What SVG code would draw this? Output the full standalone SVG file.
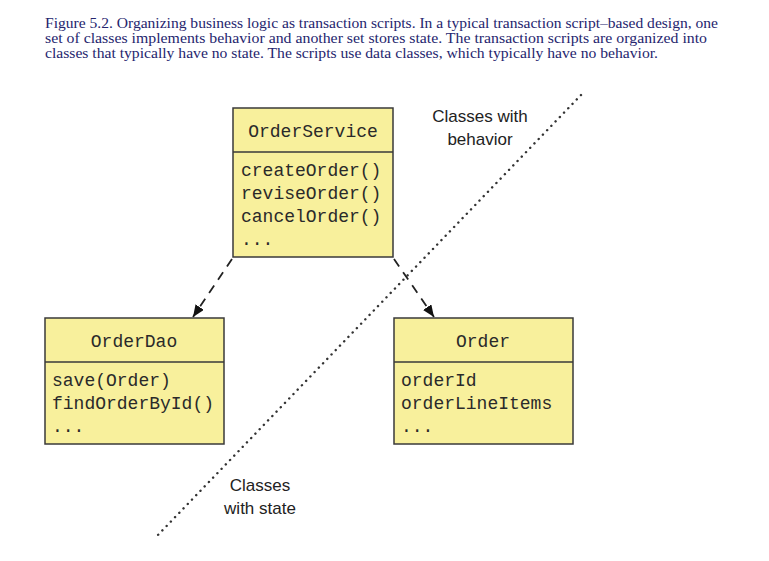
<svg xmlns="http://www.w3.org/2000/svg" width="769" height="561" viewBox="0 0 769 561">
<style>
.cap{font-family:"Liberation Serif","Times New Roman",serif;font-size:15px;fill:#25256e}
.box{fill:#f8f09c;stroke:#3a3a3a;stroke-width:1.5}
.mono{font-family:"Liberation Mono","Courier New",monospace;font-size:18px;fill:#2a2a2a}
.lbl{font-family:"Liberation Sans",Arial,sans-serif;font-size:17px;fill:#222}
.dash{fill:none;stroke:#222;stroke-width:1.8;stroke-dasharray:9 7}
.dot{fill:none;stroke:#333;stroke-width:2.4;stroke-dasharray:0.1 6;stroke-linecap:round}
</style>
<defs>
<marker id="ah" viewBox="0 0 12 10" refX="12" refY="5" markerWidth="12" markerHeight="10" markerUnits="userSpaceOnUse" orient="auto">
<path d="M0,0 L12,5 L0,10 z" fill="#111"/>
</marker>
</defs>
<rect width="769" height="561" fill="#fff"/>
<g id="caption">
<text class="cap" x="45" y="28" textLength="673" lengthAdjust="spacingAndGlyphs">Figure 5.2. Organizing business logic as transaction scripts. In a typical transaction script–based design, one</text>
<text class="cap" x="45" y="43" textLength="662" lengthAdjust="spacingAndGlyphs">set of classes implements behavior and another set stores state. The transaction scripts are organized into</text>
<text class="cap" x="45" y="58" textLength="613" lengthAdjust="spacingAndGlyphs">classes that typically have no state. The scripts use data classes, which typically have no behavior.</text>
</g>
<g id="divider">
<path class="dot" d="M581,95 L156,537"/>
<text class="lbl" x="480" y="122" text-anchor="middle">Classes with</text>
<text class="lbl" x="480" y="145" text-anchor="middle">behavior</text>
<text class="lbl" x="260" y="491" text-anchor="middle">Classes</text>
<text class="lbl" x="260" y="514" text-anchor="middle">with state</text>
</g>
<g id="connectors">
<path class="dash" d="M232,259 L193,317" marker-end="url(#ah)"/>
<path class="dash" d="M394,259 L434,317" marker-end="url(#ah)"/>
</g>
<g id="OrderService">
<rect class="box" x="233" y="108" width="160" height="149"/>
<line class="box" x1="233" y1="152" x2="393" y2="152"/>
<text class="mono" x="313" y="137" text-anchor="middle">OrderService</text>
<text class="mono" x="241" y="176">createOrder()</text>
<text class="mono" x="241" y="199">reviseOrder()</text>
<text class="mono" x="241" y="222">cancelOrder()</text>
<text class="mono" x="241" y="245">...</text>
</g>
<g id="OrderDao">
<rect class="box" x="45" y="318" width="179" height="126"/>
<line class="box" x1="45" y1="362" x2="224" y2="362"/>
<text class="mono" x="134" y="347" text-anchor="middle">OrderDao</text>
<text class="mono" x="52" y="386">save(Order)</text>
<text class="mono" x="52" y="409">findOrderById()</text>
<text class="mono" x="52" y="432">...</text>
</g>
<g id="Order">
<rect class="box" x="394" y="318" width="179" height="126"/>
<line class="box" x1="394" y1="362" x2="573" y2="362"/>
<text class="mono" x="483" y="347" text-anchor="middle">Order</text>
<text class="mono" x="401" y="386">orderId</text>
<text class="mono" x="401" y="409">orderLineItems</text>
<text class="mono" x="401" y="432">...</text>
</g>
</svg>
